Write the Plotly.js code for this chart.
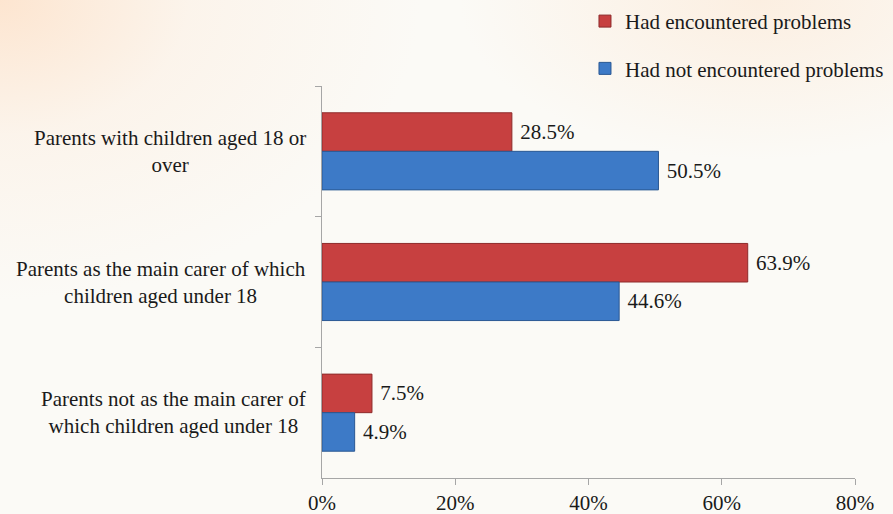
<!DOCTYPE html>
<html>
<head>
<meta charset="utf-8">
<script src="https://cdn.plot.ly/plotly-3.0.1.min.js"></script>
<style>
  html, body { margin: 0; padding: 0; }
  body {
    width: 893px; height: 514px; overflow: hidden;
    background:
      radial-gradient(ellipse 420px 300px at 0% 0%, rgba(253,228,206,0.95) 0%, rgba(252,240,228,0.6) 45%, rgba(251,249,245,0) 100%),
      radial-gradient(ellipse 300px 160px at 85% 0%, rgba(252,236,220,0.8) 0%, rgba(251,249,245,0) 100%),
      #fbfaf6;
  }
  #chart { width: 893px; height: 514px; }
</style>
</head>
<body>
<div id="chart"></div>
<script>
// Data
const categories = [
  'Parents with children aged 18 or<br>over',
  'Parents as the main carer of which<br>children aged under 18',
  'Parents not as the main carer of<br>which children aged under 18'
];
const seriesNames = ['Had encountered problems', 'Had not encountered problems'];
const encountered = [28.5, 63.9, 7.5];
const notEncountered = [50.5, 44.6, 4.9];
const xTicks = [0, 20, 40, 60, 80];
const xTickLabels = ['0%', '20%', '40%', '60%', '80%'];

const FONT = 'Liberation Serif, Times New Roman, serif';
const NBSP = '\u00a0';

const traces = [
  {
    type: 'bar', orientation: 'h', name: seriesNames[0], legendgroup: 'a',
    y: categories, x: encountered,
    marker: { color: '#c74040', line: { color: '#8e2b2b', width: 1 } },
    text: encountered.map(v => NBSP + v.toFixed(1) + '%'),
    textposition: 'outside', constraintext: 'none', cliponaxis: false,
    textfont: { family: FONT, size: 21, color: '#1a1a1a' },
    hoverinfo: 'x+name'
  },
  {
    type: 'bar', orientation: 'h', name: seriesNames[1], legendgroup: 'b',
    y: categories, x: notEncountered,
    marker: { color: '#3d7ac7', line: { color: '#2a5893', width: 1 } },
    text: notEncountered.map(v => NBSP + v.toFixed(1) + '%'),
    textposition: 'outside', constraintext: 'none', cliponaxis: false,
    textfont: { family: FONT, size: 21, color: '#1a1a1a' },
    hoverinfo: 'x+name'
  }
];

const annotations = categories.map(c => ({
  xref: 'paper', yref: 'y', x: 0, y: c, xanchor: 'right', yanchor: 'middle',
  xshift: -14, text: c, showarrow: false, align: 'center',
  font: { family: FONT, size: 21, color: '#1a1a1a' }
}));

const layout = {
  width: 893, height: 514,
  margin: { l: 322, r: 38, t: 86, b: 36, autoexpand: false },
  paper_bgcolor: 'rgba(0,0,0,0)',
  plot_bgcolor: 'rgba(0,0,0,0)',
  font: { family: FONT, size: 21, color: '#1a1a1a' },
  barmode: 'group',
  bargap: 0.41,
  bargroupgap: 0,
  showlegend: true,
  legend: {
    x: 0.4934, xanchor: 'left', y: 1.217, yanchor: 'top',
    traceorder: 'grouped', tracegroupgap: 17,
    bgcolor: 'rgba(0,0,0,0)', borderwidth: 0,
    font: { family: FONT, size: 21, color: '#1a1a1a' },
    itemwidth: 30
  },
  xaxis: {
    range: [0, 80], tickvals: xTicks, ticktext: xTickLabels,
    showgrid: false, zeroline: false, automargin: false,
    showline: true, linecolor: '#a6a6a6', linewidth: 1,
    ticks: 'outside', ticklen: 6, tickcolor: '#a6a6a6',
    tickfont: { family: FONT, size: 21, color: '#1a1a1a' }
  },
  yaxis: {
    type: 'category', autorange: 'reversed', automargin: false,
    showticklabels: false, showgrid: false, zeroline: false,
    showline: true, linecolor: '#a6a6a6', linewidth: 1,
    ticks: 'outside', ticklen: 6, tickcolor: '#a6a6a6', tickson: 'boundaries'
  },
  annotations: annotations
};

Plotly.newPlot('chart', traces, layout, { displayModeBar: false, staticPlot: true });
</script>
</body>
</html>
